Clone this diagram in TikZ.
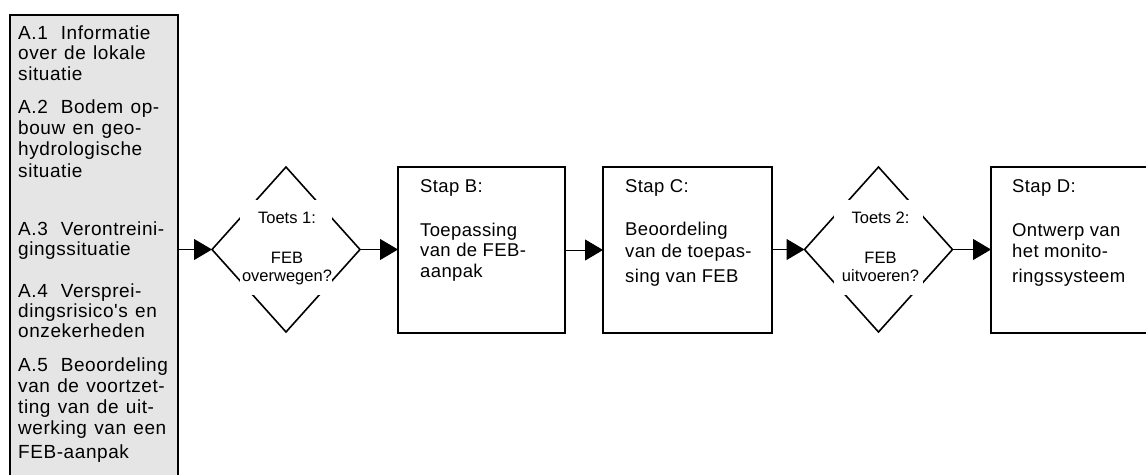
\documentclass[tikz,border=0pt]{standalone}
\usepackage{fontspec}
\setmainfont{Liberation Sans}
\newfontfamily\colfont{Liberation Sans}[Ligatures=TeXOff,WordSpace=1.25,LetterSpace=3]
\newfontfamily\boxfont{Liberation Sans}[LetterSpace=2]
\newfontfamily\testfont{Liberation Sans}
\usetikzlibrary{shapes.geometric,arrows.meta}
\begin{document}
\begin{tikzpicture}[x=1pt,y=-1pt,
  ltxt/.style={anchor=base west, inner sep=0pt, font=\colfont\fontsize{19}{20}\selectfont},
  txt/.style={anchor=base west, inner sep=0pt, font=\boxfont\fontsize{18.5}{20}\selectfont},
  dtxt/.style={anchor=base, inner sep=0pt, font=\testfont\fontsize{16.5}{18}\selectfont},
  stepbox/.style={draw, line width=1.6pt, inner sep=0pt, outer sep=0pt},
  testdiamond/.style={diamond, draw, line width=1.6pt, inner sep=0pt, outer sep=0pt,
    minimum width=148pt, minimum height=165pt},
  cover/.style={fill=white, inner sep=0pt, outer sep=0pt, minimum height=95pt},
  flow/.style={-{Triangle[length=18pt,width=21pt]}, line width=1pt}
]
\useasboundingbox (0,0) rectangle (1146,474);
\clip (0,0) rectangle (1146,474);

% left column box
\node[stepbox, fill=gray!20, minimum width=168pt, minimum height=480pt] (L) at (94,255) {};
\foreach \y/\t [count=\i] in {
  39/{A.1\hspace{0.3em} Informatie}, 59/{over de lokale}, 80/{situatie},
  113/{A.2\hspace{0.3em} Bodem op-}, 134/{bouw en geo-}, 155/{hydrologische}, 177/{situatie},
  235/{A.3\hspace{0.3em} Verontreini-}, 255/{gingssituatie},
  297/{A.4\hspace{0.3em} Versprei-}, 317/{dingsrisico's en}, 337/{onzekerheden},
  371/{A.5\hspace{0.3em} Beoordeling}, 392/{van de voortzet-}, 413/{ting van de uit-},
  434/{werking van een}, 458/{FEB-aanpak}}
  \node[ltxt] (l\i) at (18,\y) {\t};

% diamond 1
\node[testdiamond] (D1) at (286,249.5) {};
\node[cover, minimum width=92pt] (W1) at (286,247.5) {};
\node[dtxt] (d1a) at (287,223) {Toets 1:};
\node[dtxt] (d1b) at (287,263) {FEB};
\node[dtxt] (d1c) at (287,281) {overwegen?};

% step B
\node[stepbox, minimum width=167pt, minimum height=166pt] (B) at (481.5,250) {};
\node[txt] (b1) at (420,192) {Stap B:};
\node[txt] (b2) at (420,236) {Toepassing};
\node[txt] (b3) at (420,256) {van de FEB-};
\node[txt] (b4) at (420,277) {aanpak};

% step C
\node[stepbox, minimum width=169pt, minimum height=166pt] (C) at (687.5,250) {};
\node[txt] (c1) at (625,192) {Stap C:};
\node[txt] (c2) at (625,235) {Beoordeling};
\node[txt] (c3) at (625,257) {van de toepas-};
\node[txt] (c4) at (625,282) {sing van FEB};

% diamond 2
\node[testdiamond] (D2) at (878.5,249.5) {};
\node[cover, minimum width=89pt] (W2) at (878.5,247.5) {};
\node[dtxt] (d2a) at (880.5,223) {Toets 2:};
\node[dtxt] (d2b) at (880.5,263) {FEB};
\node[dtxt] (d2c) at (880.5,281) {uitvoeren?};

% step D (right edge runs off the page)
\node[stepbox, minimum width=176pt, minimum height=166pt] (D) at (1079,250) {};
\node[txt] (e1) at (1012,192) {Stap D:};
\node[txt] (e2) at (1012,236) {Ontwerp van};
\node[txt] (e3) at (1012,257) {het monito-};
\node[txt] (e4) at (1012,282) {ringssysteem};

% connectors
\draw[flow] (L.east |- D1.west) -- (D1.west);
\draw[flow] (D1.east) -- (B.west |- D1.east);
\draw[flow] (B.east) -- (C.west);
\draw[flow] (C.east |- D2.west) -- (D2.west);
\draw[flow] (D2.east) -- (D.west |- D2.east);
\end{tikzpicture}
\end{document}
